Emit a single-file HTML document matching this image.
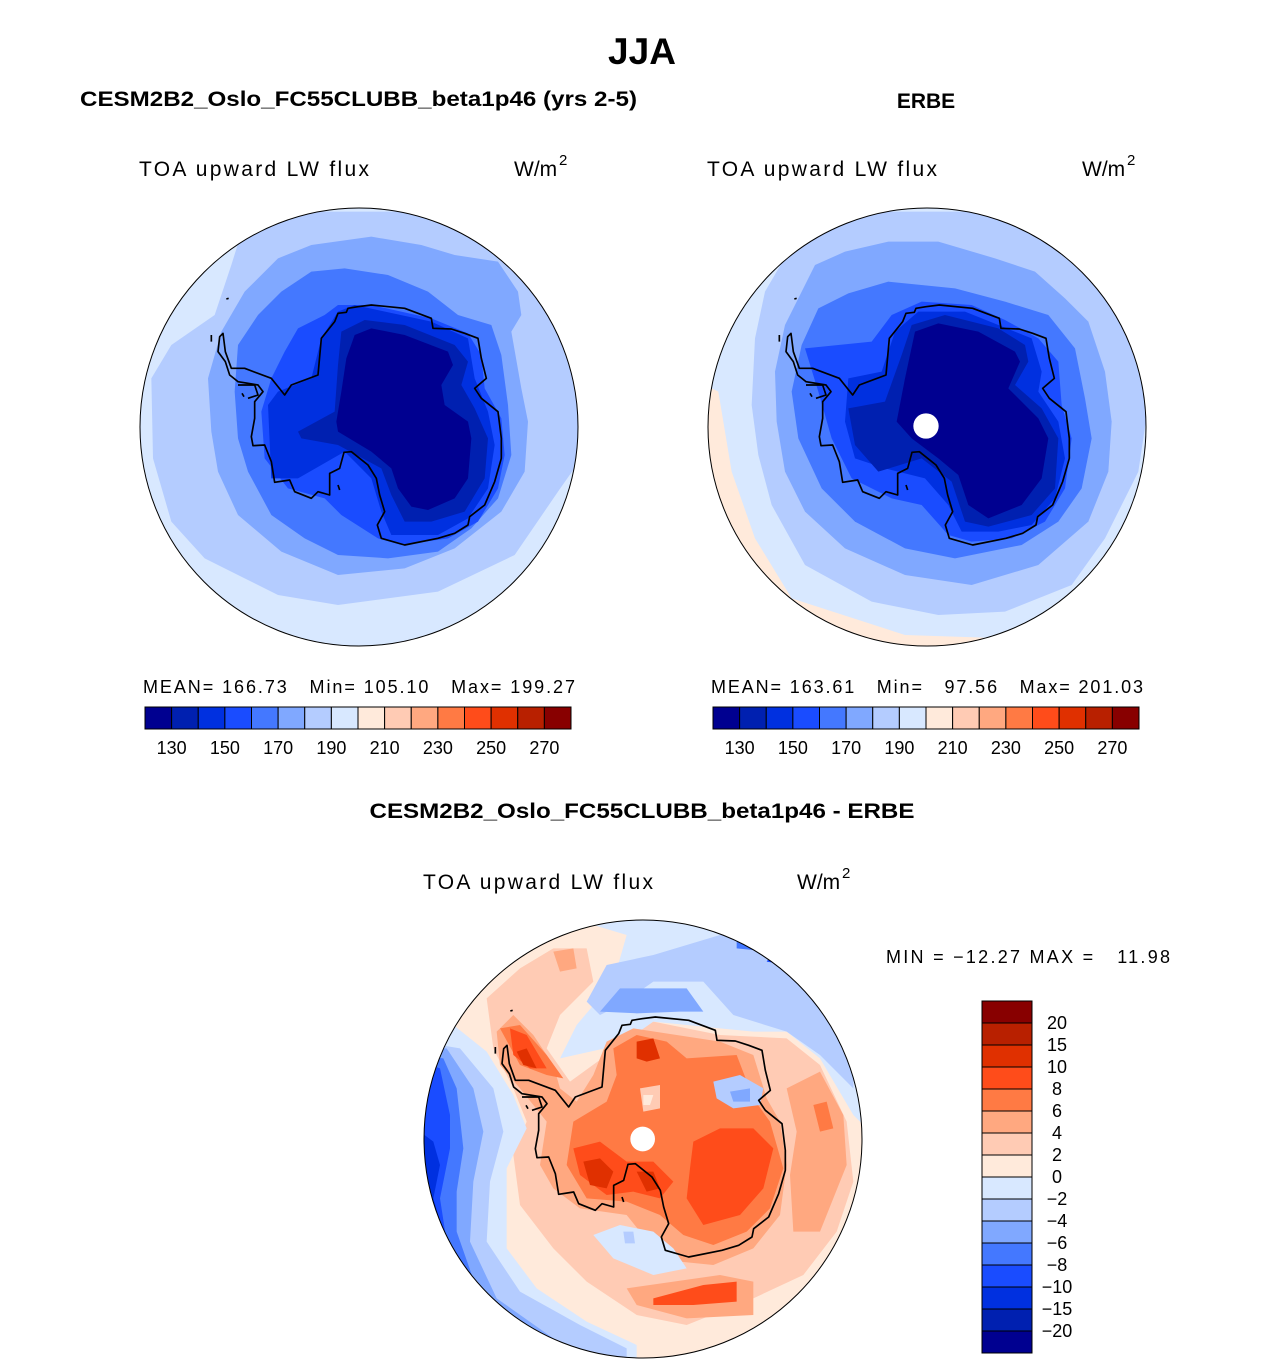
<!DOCTYPE html>
<html><head><meta charset="utf-8"><style>
body{margin:0;background:#fff}
svg text{font-family:"Liberation Sans",sans-serif;white-space:pre}
</style></head><body>
<svg id="fig" width="1285" height="1364" xmlns="http://www.w3.org/2000/svg" xml:space="preserve">
<defs>
<clipPath id="c1"><circle cx="663" cy="666" r="657"/></clipPath>
<clipPath id="c2"><circle cx="666" cy="666" r="657"/></clipPath>
<clipPath id="c3"><circle cx="669" cy="672" r="657"/></clipPath>
<g id="coast" fill="none" stroke="#000" stroke-width="5" stroke-linejoin="round">
<path d="M590,350 L600,325 L625,322 L630,310 L660,305 L700,300 L800,310 L880,340 L885,370 L940,372 L980,385 L1020,400 L1030,460 L1045,520 L1010,550 L1030,580 L1080,620 L1090,700 L1090,760 L1070,830 L1040,900 L995,935 L990,960 L950,985 L900,1000 L800,1020 L730,1000 L718,960 L740,920 L725,870 L715,820 L690,780 L640,740 L618,742 L605,790 L575,805 L575,870 L540,860 L520,880 L470,860 L455,825 L410,832 L400,770 L380,720 L345,722 L340,695 L350,640 L350,590 L375,560 L360,540 L300,530 L275,510 L262,470 L240,440 L245,395 L255,385 L262,440 L280,490 L320,490 L400,520 L440,570 L460,540 L540,510 L550,400 Z"/>
<path d="M300,540 L350,540 L360,570 L330,580 M312,565 L318,575"/>
<path d="M220,390 L220,410 M265,282 L272,280 M600,840 L605,855"/>
</g>
</defs>

<text x="642" y="64" font-size="37" font-weight="bold" text-anchor="middle">JJA</text>
<text x="80" y="106" font-size="21" font-weight="bold" textLength="557" lengthAdjust="spacingAndGlyphs">CESM2B2_Oslo_FC55CLUBB_beta1p46 (yrs 2-5)</text>
<text x="926" y="108" font-size="21" font-weight="bold" text-anchor="middle">ERBE</text>
<text x="642" y="818" font-size="21" font-weight="bold" text-anchor="middle" textLength="545" lengthAdjust="spacingAndGlyphs">CESM2B2_Oslo_FC55CLUBB_beta1p46 - ERBE</text>

<g font-size="21">
<text x="139" y="176" textLength="230" lengthAdjust="spacing">TOA upward LW flux</text>
<text x="514" y="176">W/m</text><text x="559" y="165" font-size="15">2</text>
<text x="707" y="176" textLength="230" lengthAdjust="spacing">TOA upward LW flux</text>
<text x="1082" y="176">W/m</text><text x="1127" y="165" font-size="15">2</text>
<text x="423" y="889" textLength="230" lengthAdjust="spacing">TOA upward LW flux</text>
<text x="797" y="889">W/m</text><text x="842" y="878" font-size="15">2</text>
</g>
<g font-size="18">
<text x="143" y="693" textLength="432" lengthAdjust="spacing">MEAN= 166.73   Min= 105.10   Max= 199.27</text>
<text x="711" y="693" textLength="432" lengthAdjust="spacing">MEAN= 163.61   Min=   97.56   Max= 201.03</text>
<text x="886" y="963" textLength="284" lengthAdjust="spacing">MIN = −12.27 MAX =   11.98</text>
</g>

<!-- Map 1 -->
<g transform="translate(138,205) scale(0.33333)">
<g clip-path="url(#c1)">
<rect x="0" y="0" width="1400" height="1400" fill="#d8e8ff"/>
<polygon fill="#b4ccff" points="330,20 1000,20 1330,400 1330,760 1260,860 1130,1050 900,1160 600,1200 420,1170 200,1060 100,950 45,760 40,520 100,420 230,330 280,180"/>
<polygon fill="#80a8ff" points="420,160 520,120 700,95 850,120 950,150 1080,170 1140,260 1150,330 1120,380 1150,550 1170,650 1160,800 1090,920 950,1030 800,1090 600,1110 430,1040 300,930 240,800 220,680 210,520 250,380 320,260"/>
<polygon fill="#4478ff" points="430,260 520,200 620,190 750,210 870,260 960,330 1060,360 1090,450 1110,600 1120,750 1080,880 1000,970 900,1040 750,1060 600,1050 500,1000 400,930 330,800 300,700 290,560 300,420 360,330"/>
<polygon fill="#1a4cff" points="480,370 560,330 600,300 700,300 880,340 990,385 1030,450 1040,550 1090,640 1100,750 1080,850 1020,950 930,1000 790,1020 720,1000 610,930 560,880 450,850 380,760 370,620 400,520 440,440"/>
<polygon fill="#0030e0" points="390,600 420,560 520,520 550,400 600,320 650,300 880,350 990,400 1010,520 1050,620 1070,720 1050,850 990,940 900,990 760,990 730,920 700,820 620,740 480,820 400,820"/>
<polygon fill="#0020b0" points="610,380 680,345 800,360 950,420 990,470 970,540 1010,610 1050,700 1040,820 980,920 880,950 800,950 760,870 730,790 600,720 490,700 480,680 590,620 600,480"/>
<polygon fill="#000090" points="650,390 700,370 800,390 930,440 945,480 910,540 920,600 990,650 1000,700 990,820 950,880 870,915 820,905 780,850 760,790 700,740 600,680 595,650 610,560 625,460"/>
</g>
<use href="#coast"/>
<circle cx="663" cy="666" r="657" fill="none" stroke="#000" stroke-width="3"/>
</g>

<!-- Map 2 -->
<g transform="translate(705,205) scale(0.33333)">
<g clip-path="url(#c2)">
<rect x="0" y="0" width="1400" height="1400" fill="#d8e8ff"/>
<polygon fill="#ffeadb" points="0,540 40,560 80,800 150,1000 260,1180 600,1290 900,1300 900,1400 0,1400"/>
<polygon fill="#b4ccff" points="250,140 350,60 500,20 1300,20 1330,600 1300,800 1200,1000 1100,1140 900,1220 700,1230 500,1190 300,1080 200,900 160,750 140,600 150,400 180,260"/>
<polygon fill="#80a8ff" points="330,180 420,140 550,110 700,110 870,160 990,200 1080,280 1150,350 1200,500 1220,650 1210,800 1150,950 1000,1080 800,1140 600,1110 420,1030 300,920 240,800 215,650 210,500 240,360"/>
<polygon fill="#4478ff" points="340,310 430,265 550,230 750,250 900,290 1030,330 1110,430 1140,580 1160,700 1130,850 1060,950 950,1020 750,1060 600,1030 450,950 350,850 280,700 260,560 290,420"/>
<polygon fill="#1a4cff" points="300,430 400,420 500,410 560,330 650,290 800,300 900,345 1000,400 1060,470 1070,600 1100,700 1080,850 1020,950 920,1000 800,1010 730,990 650,900 560,880 440,820 380,700 340,560"/>
<polygon fill="#0030e0" points="430,520 530,500 570,380 640,320 780,320 880,360 980,400 1010,500 1000,560 1060,650 1080,760 1050,880 980,960 880,980 770,980 730,900 660,820 540,790 450,760 420,650"/>
<polygon fill="#0020b0" points="430,610 540,590 590,450 620,360 720,330 880,370 960,420 970,470 930,540 1010,610 1060,700 1050,850 980,930 850,965 780,950 740,830 650,760 520,800 450,720"/>
<polygon fill="#000090" points="575,650 600,520 630,380 700,355 820,380 930,440 945,470 910,550 1000,640 1030,700 1010,820 950,900 850,940 790,900 760,810 700,760 620,700"/>
<circle cx="663" cy="663" r="38" fill="#fff"/>
</g>
<use href="#coast" transform="translate(3,0)"/>
<circle cx="666" cy="666" r="657" fill="none" stroke="#000" stroke-width="3"/>
</g>

<!-- Map 3 -->
<g transform="translate(420,915) scale(0.33333)">
<g clip-path="url(#c3)">
<rect x="0" y="0" width="1400" height="1400" fill="#ffeadb"/>
<polygon fill="#ffcbb4" points="200,250 300,160 400,100 500,100 520,200 420,300 380,400 450,500 560,420 580,330 700,320 900,360 1100,370 1200,450 1280,620 1300,800 1250,950 1150,1080 1000,1150 800,1230 650,1200 500,1100 400,1000 300,870 280,720 320,620 280,520 220,400"/>
<polygon fill="#d8e8ff" points="0,300 100,330 200,410 280,540 320,640 260,760 260,1000 350,1120 500,1220 650,1290 650,1400 0,1400"/>
<polygon fill="#b4ccff" points="0,380 120,400 220,520 250,650 210,800 200,980 300,1130 480,1230 620,1300 620,1400 0,1400"/>
<polygon fill="#80a8ff" points="0,400 80,400 160,520 190,650 160,800 150,980 230,1150 400,1270 520,1330 0,1400"/>
<polygon fill="#4478ff" points="0,420 70,430 110,520 130,700 110,830 110,950 180,1150 300,1300 0,1400"/>
<polygon fill="#1a4cff" points="0,440 60,460 90,600 90,700 60,850 80,980 150,1150 0,1200"/>
<polygon fill="#0030e0" points="0,650 40,680 60,750 40,850 90,1020 0,1050"/>
<polygon fill="#d8e8ff" points="420,0 620,60 580,200 470,330 420,430 600,390 700,320 900,340 1000,350 1100,350 1200,430 1300,600 1400,700 1400,0"/>
<polygon fill="#b4ccff" points="500,260 560,150 700,120 800,90 900,60 1000,60 1200,150 1300,350 1300,520 1200,420 1100,350 940,300 850,200 700,200 600,270 540,300"/>
<polygon fill="#80a8ff" points="540,290 600,220 800,220 850,290 780,290 650,295"/>
<polygon fill="#80a8ff" points="850,30 1000,80 1150,200 1250,330 1300,400 1400,400 1400,0"/>
<polygon fill="#4478ff" points="950,100 1050,110 1150,200 1230,330 1400,330 1400,0 950,0"/>
<polygon fill="#1a4cff" points="1040,140 1100,150 1150,200 1180,150 1100,50"/>
<polygon fill="#ffa880" points="230,350 280,300 340,360 400,450 420,520 470,560 520,480 560,380 640,340 900,380 1000,420 1040,550 1080,620 1100,750 1080,900 1000,1000 880,1050 780,1040 700,1000 620,900 480,880 400,820 360,750 380,620 300,520 240,450"/>
<polygon fill="#ffa880" points="1100,520 1200,470 1270,600 1280,750 1200,950 1120,950 1110,780 1130,650"/>
<polygon fill="#ffa880" points="620,1120 900,1080 1000,1100 1000,1200 800,1210 650,1170"/>
<polygon fill="#ffa880" points="400,110 460,100 470,160 420,170"/>
<polygon fill="#ff7a44" points="240,340 300,330 380,420 430,490 380,480 300,450"/>
<polygon fill="#ff7a44" points="580,400 650,360 740,380 800,430 950,420 1000,550 1050,620 1090,760 1050,880 980,950 880,990 790,960 720,900 620,860 500,850 440,750 460,620 560,560 590,480"/>
<polygon fill="#ff7a44" points="1180,570 1220,560 1240,640 1200,650"/>
<polygon fill="#ff4c1a" points="820,680 900,640 1000,640 1060,700 1030,820 960,900 850,930 800,850 810,760"/>
<polygon fill="#ff4c1a" points="460,700 540,680 620,740 700,740 760,800 720,850 640,830 560,840 480,780"/>
<polygon fill="#ff4c1a" points="270,340 320,360 380,460 330,460 280,420"/>
<polygon fill="#ff4c1a" points="700,1150 850,1110 950,1100 950,1160 820,1170 700,1170"/>
<polygon fill="#e03000" points="650,380 700,370 720,430 680,440 650,430"/>
<polygon fill="#e03000" points="490,740 540,730 580,770 560,820 510,810"/>
<polygon fill="#e03000" points="290,410 320,400 350,460 310,450"/>
<polygon fill="#e03000" points="650,770 700,770 720,820 680,830"/>
<polygon fill="#ffcbb4" points="660,520 720,510 720,580 670,590"/>
<polygon fill="#ffeadb" points="670,540 700,540 690,570 670,570"/>
<polygon fill="#b4ccff" points="880,500 960,480 1030,520 1020,570 940,580 890,550"/>
<polygon fill="#80a8ff" points="930,530 990,520 990,560 940,560"/>
<polygon fill="#d8e8ff" points="520,960 600,930 700,950 760,1000 800,1060 700,1080 580,1030"/>
<polygon fill="#b4ccff" points="610,950 640,950 645,985 615,985"/>
<circle cx="668" cy="672" r="37" fill="#fff"/>
</g>
<use href="#coast" transform="translate(6,6)"/>
<circle cx="669" cy="672" r="657" fill="none" stroke="#000" stroke-width="3"/>
</g>

<g id="cbars"></g>
</svg>
<script>
const absColors = ["#000090","#0020b0","#0030e0","#1a4cff","#4478ff","#80a8ff","#b4ccff","#d8e8ff","#ffeadb","#ffcbb4","#ffa880","#ff7a44","#ff4c1a","#e03000","#b82000","#880000"];
const absTickLabels = ["130","150","170","190","210","230","250","270"];
const diffColors = ["#000090","#0020b0","#0030e0","#1a4cff","#4478ff","#80a8ff","#b4ccff","#d8e8ff","#ffeadb","#ffcbb4","#ffa880","#ff7a44","#ff4c1a","#e03000","#b82000","#880000"];
const diffTickLabels = ["−20","−15","−10","−8","−6","−4","−2","0","2","4","6","8","10","15","20"];
const NS="http://www.w3.org/2000/svg";
const g=document.getElementById('cbars');
function mk(t,a){const e=document.createElementNS(NS,t);for(const k in a)e.setAttribute(k,a[k]);g.appendChild(e);return e;}
function hbar(x0,name){
  const w=426/absColors.length;
  absColors.forEach((c,i)=>{
    const r=mk('rect',{x:x0+i*w,y:707,width:w,height:22,fill:c,stroke:'#000','stroke-width':1});
    
    
  });
  absTickLabels.forEach((l,j)=>{
    const t=mk('text',{x:x0+(1+2*j)*w,y:754,'font-size':18,'text-anchor':'middle'});
    t.textContent=l;
    
    
  });
}
hbar(145,'left-colorbar');
hbar(713,'right-colorbar');
const h=352/diffColors.length;
diffColors.forEach((c,i)=>{
  const r=mk('rect',{x:982,y:1353-(i+1)*h,width:50,height:h,fill:c,stroke:'#000','stroke-width':1});
  
  
});
diffTickLabels.forEach((l,j)=>{
  const t=mk('text',{x:1057,y:1353-(j+1)*h+6,'font-size':18,'text-anchor':'middle'});
  t.textContent=l;
  
  
});
</script>
</body></html>
